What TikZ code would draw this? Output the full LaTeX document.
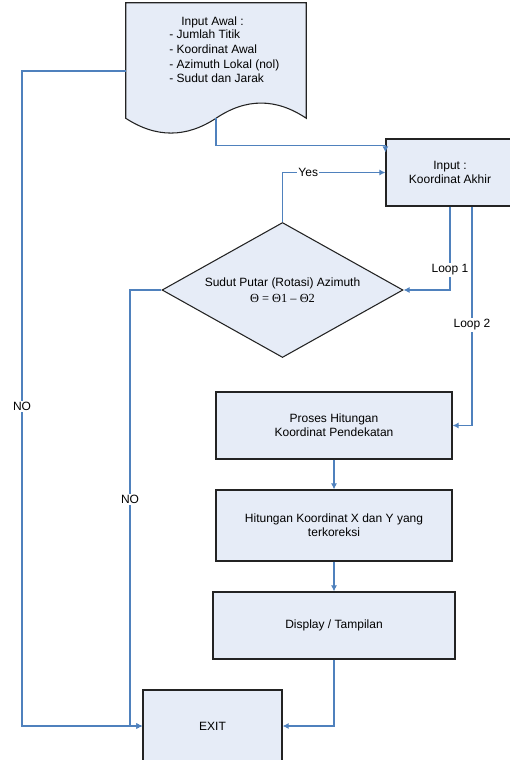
\documentclass[tikz,border=0pt]{standalone}
\usepackage{fontspec}
\setmainfont{Liberation Sans}
\newfontfamily\serifmath{Liberation Serif}
\usetikzlibrary{shapes.geometric,arrows.meta}
\definecolor{boxfill}{RGB}{230,236,247}
\definecolor{conn}{RGB}{79,129,189}
\definecolor{edgecol}{RGB}{35,35,35}
\begin{document}
\begin{tikzpicture}[x=0.75pt,y=-0.75pt,
  txt/.style={font=\fontsize{9}{10.6}\selectfont},
  procbox/.style={draw=edgecol, fill=boxfill, line width=0.9pt, inner sep=0pt, align=center, txt},
  decbox/.style={shape=diamond, draw=edgecol, fill=boxfill, line width=0.8pt, inner sep=0pt, aspect=1.78, align=center, txt},
  link/.style={draw=conn, line width=0.8pt},
  arr/.style={link, -{Latex[length=4.5pt,width=4.5pt]}},
  lbl/.style={fill=white, inner sep=1pt, txt}
]
\useasboundingbox (0,0) rectangle (510,760);
\clip (0,0) rectangle (510,760);

% document shape (Input Awal)
\node[minimum width=135pt, minimum height=86.25pt, inner sep=0pt] (doc) at (216,60.5) {};
\draw[draw=edgecol, fill=boxfill, line width=0.8pt]
  (doc.north west) -- (doc.north east) -- (doc.south east)
  .. controls (276,98) and (246,98) .. (doc.south)
  .. controls (186,138) and (156,138) .. (doc.south west) -- cycle;
\node[txt] (doctitle) at (212.5,22.5) {Input Awal :};
\node[txt, align=left, anchor=west, inner sep=0pt, font=\fontsize{9}{10.9}\selectfont] (doclist) at (169,56.5)
  {- Jumlah Titik\\- Koordinat Awal\\- Azimuth Lokal (nol)\\- Sudut dan Jarak};

% boxes
\node[procbox, minimum width=96pt, minimum height=50.25pt] (inp) at (450,172.5) {Input :\\Koordinat Akhir};
\node[decbox, minimum width=180.75pt, minimum height=101.25pt] (dia) at (282.5,290)
  {Sudut Putar (Rotasi) Azimuth\\[1.5pt]{\serifmath\fontsize{9.3}{11}\selectfont Θ = Θ1 – Θ2}};
\node[procbox, minimum width=177pt, minimum height=50.25pt] (proses) at (334,425.5) {Proses Hitungan\\Koordinat Pendekatan};
\node[procbox, minimum width=177pt, minimum height=53.25pt] (hitung) at (334,525.5) {Hitungan Koordinat X dan Y yang\\terkoreksi};
\node[procbox, minimum width=181.5pt, minimum height=50.25pt] (disp) at (334,625.5) {Display / Tampilan};
\node[procbox, minimum width=104.25pt, minimum height=54pt] (exit) at (212.5,726) {EXIT};

% connectors
\draw[arr] (doc.south) |- ([yshift=-5.25pt]inp.north west) -- ([yshift=-10.5pt]inp.north west);
\draw[arr] (dia.north) |- node[lbl, pos=0.625] {Yes} (inp.west);
\draw[arr] (inp.south) |- node[lbl, pos=0.38] {Loop 1} (dia.east);
\draw[arr] ([xshift=16.5pt]inp.south) |- node[lbl, pos=0.27] {Loop 2} (proses.east);
\draw[arr] (proses.south) -- (hitung.north);
\draw[arr] (hitung.south) -- (disp.north);
\draw[arr] (disp.south) |- (exit.east);
\coordinate (nl) at (130,290);
\draw[arr] (dia.west) -- (nl) |- node[lbl, pos=0.24] {NO} (exit.west);
\coordinate (nf) at (22,71);
\draw[arr] (doc.west |- nf) -- (nf) |- node[lbl, pos=0.256] {NO} (exit.west);
\end{tikzpicture}
\end{document}
